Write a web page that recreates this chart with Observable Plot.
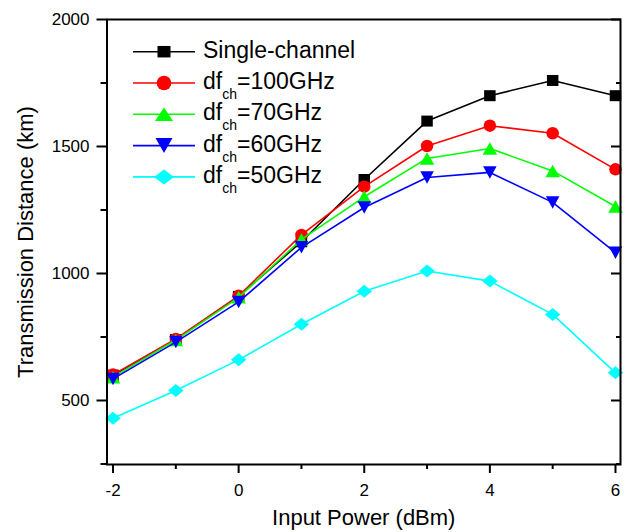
<!DOCTYPE html>
<html><head><meta charset="utf-8">
<script src="https://cdn.jsdelivr.net/npm/d3@7"></script>
<script src="https://cdn.jsdelivr.net/npm/@observablehq/plot@0.6"></script>
<style>body{margin:0;background:#fff}</style>
</head><body><div id="chart"></div>
<script>
// ---- data ----
const inputPower = [-2, -1, 0, 1, 2, 3, 4, 5, 6];
const singleChannel = [600, 740, 910, 1125, 1370, 1600, 1700, 1760, 1700];
const df100 = [602, 742, 912, 1152, 1342, 1502, 1582, 1552, 1410];
const df70 = [592, 738, 906, 1134, 1302, 1453, 1492, 1404, 1264];
const df60 = [585, 730, 888, 1103, 1260, 1378, 1398, 1280, 1082];
const df50 = [430, 539, 660, 800, 930, 1010, 970, 839, 609];
const seriesValues = [singleChannel, df100, df70, df60, df50];
const legendMain = ["Single-channel", "df", "df", "df", "df"];
const legendSub = ["", "ch", "ch", "ch", "ch"];
const legendTail = ["", "=100GHz", "=70GHz", "=60GHz", "=50GHz"];
const xMajorTicks = [-2, 0, 2, 4, 6];
const xMinorTicks = [-1, 1, 3, 5];
const yMajorTicks = [500, 1000, 1500, 2000];
const yMinorTicks = [250, 750, 1250, 1750];
const xTitle = "Input Power (dBm)";
const yTitle = "Transmission Distance (km)";

// ---- styles ----
const colors = ["#000000", "#ff0000", "#00ff00", "#0000ff", "#00ffff"];
function shape(kind, w, h) {
  return {draw(ctx) {
    const a = w / 2, b = h / 2;
    if (kind === "square") { ctx.moveTo(-a, -b); ctx.lineTo(a, -b); ctx.lineTo(a, b); ctx.lineTo(-a, b); ctx.closePath(); }
    else if (kind === "circle") { ctx.moveTo(a, 0); ctx.arc(0, 0, a, 0, 2 * Math.PI); ctx.closePath(); }
    else if (kind === "up") { ctx.moveTo(0, -b); ctx.lineTo(a, b); ctx.lineTo(-a, b); ctx.closePath(); }
    else if (kind === "down") { ctx.moveTo(0, b); ctx.lineTo(a, -b); ctx.lineTo(-a, -b); ctx.closePath(); }
    else { ctx.moveTo(0, -b); ctx.lineTo(a, 0); ctx.lineTo(0, b); ctx.lineTo(-a, 0); ctx.closePath(); }
  }};
}
const dataSymbols = [shape("square", 11.5, 11), shape("circle", 12.5, 12.5), shape("up", 14.5, 12.5), shape("down", 13.5, 12.5), shape("diamond", 15.5, 13)];
const legendSymbols = [shape("square", 13, 11.5), shape("circle", 14.5, 14.5), shape("up", 18, 13.5), shape("down", 17, 15), shape("diamond", 20, 15)];
const font = "'Liberation Sans', Arial, Helvetica, sans-serif";

const marks = [];
seriesValues.forEach((vals, i) => {
  const data = inputPower.map((x, j) => ({x, y: vals[j]}));
  marks.push(Plot.line(data, {x: "x", y: "y", stroke: colors[i], strokeWidth: 1.6}));
  marks.push(Plot.dot(data, {x: "x", y: "y", fill: colors[i], stroke: "none", r: 6, symbol: dataSymbols[i]}));
});

const plot = Plot.plot({
  width: 626, height: 532,
  marginLeft: 106.5, marginRight: 6, marginTop: 19, marginBottom: 68,
  x: {domain: [-2.096, 6.08]},
  y: {domain: [248, 2000]},
  style: {fontFamily: font, fontSize: "17px", background: "#fff", color: "#000", overflow: "visible"},
  marks: [
    Plot.axisX(xMajorTicks, {tickSize: 9, strokeWidth: 2, fill: "none", label: null}),
    Plot.axisX(xMinorTicks, {tickSize: 5, strokeWidth: 2, fill: "none", label: null}),
    Plot.axisX(xMajorTicks, {tickSize: 0, tickPadding: 19, label: null, tickFormat: d => String(d)}),
    Plot.axisY(yMajorTicks, {tickSize: 10, strokeWidth: 2, fill: "none", label: null}),
    Plot.axisY(yMinorTicks, {tickSize: 6, strokeWidth: 2, fill: "none", label: null}),
    Plot.axisY(yMajorTicks, {tickSize: 0, tickPadding: 17.5, label: null, tickFormat: d => String(d)}),
    Plot.axisY(yMajorTicks, {anchor: "right", tickSize: 10, dx: -10, strokeWidth: 2, fill: "none", label: null}),
    Plot.axisY(yMinorTicks, {anchor: "right", tickSize: 5, dx: -5, strokeWidth: 2, fill: "none", label: null}),
    Plot.text([xTitle], {text: d => d, frameAnchor: "bottom", dy: 60, lineAnchor: "bottom", textAnchor: "middle", fontSize: 22}),
    Plot.text([yTitle], {text: d => d, frameAnchor: "left", rotate: -90, dx: -81.5, textAnchor: "middle", fontSize: 22}),
    ...marks,
    Plot.frame({stroke: "#000", strokeWidth: 2})
  ]
});

// legend inside the plot (top-left)
const svg = d3.select(plot);
const g = svg.append("g").attr("font-family", font).attr("text-anchor", "start");
legendMain.forEach((m, i) => {
  const cy = 51.7 + i * 31.3;
  g.append("line").attr("x1", 133).attr("x2", 195).attr("y1", cy).attr("y2", cy)
    .attr("stroke", colors[i]).attr("stroke-width", 1.6);
  g.append("path").attr("transform", `translate(164,${cy})`)
    .attr("d", d3.symbol(legendSymbols[i], 1)()).attr("fill", colors[i]);
  const t = g.append("text").attr("x", 203).attr("y", cy + 6).attr("font-size", 23)
    .attr("fill", "#000").attr("text-anchor", "start");
  t.append("tspan").text(m);
  if (legendSub[i]) {
    t.append("tspan").attr("font-size", 14).attr("dy", 10).text(legendSub[i]);
    t.append("tspan").attr("dy", -10).text(legendTail[i]);
  }
});

document.getElementById("chart").appendChild(plot);
</script>
</body></html>
